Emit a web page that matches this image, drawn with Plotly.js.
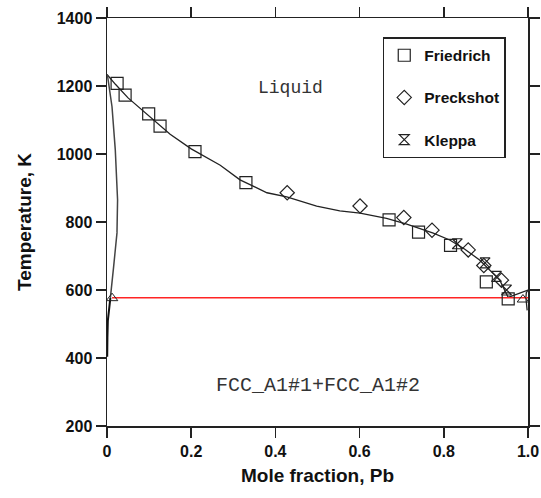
<!DOCTYPE html>
<html>
<head>
<meta charset="utf-8">
<script src="https://cdn.plot.ly/plotly-3.0.1.min.js"></script>
<style>html,body{margin:0;padding:0;background:#fff;}#chart{width:541px;height:498px;}</style>
</head>
<body>
<div id="chart"></div>
<script>
// Liquidus (Ag side to eutectic)
const liqX = [0, 0.02, 0.05, 0.1, 0.15, 0.2, 0.221, 0.269, 0.316, 0.38, 0.427, 0.498, 0.553, 0.601, 0.664, 0.712, 0.775, 0.814, 0.85, 0.885, 0.933, 0.953];
const liqT = [1234, 1205, 1165, 1112, 1058, 1015, 1000, 967, 924, 886, 874, 847, 833, 826, 811, 794, 767, 747, 720, 688, 629, 578];
// Ag-rich solidus (retrograde)
const solX = [0, 0.0014, 0.0119, 0.0197, 0.0251, 0.0237, 0.0157, 0.0095, 0.008];
const solT = [1234, 1229, 1139, 1012, 865, 768, 668, 590, 577];
// Ag-rich solvus below eutectic
const solvX = [0.008, 0.004, 0.002, 0.001, 0.0005];
const solvT = [577, 540, 510, 460, 404];
// Pb side
const pbLiqX = [0.953, 0.97, 0.985, 1.0];
const pbLiqT = [578, 586, 594, 600];
const pbSolX = [1.0, 0.996, 0.995, 0.996, 0.998];
const pbSolT = [600, 592, 577, 560, 540];
// Eutectic line
const eutX = [0.012, 1.0];
const eutT = [577, 577];
// Experimental data
const friedX = [0.024, 0.043, 0.099, 0.126, 0.209, 0.330, 0.670, 0.740, 0.816, 0.901, 0.953];
const friedT = [1208, 1173, 1118, 1082, 1007, 916, 806, 770, 731, 624, 574];
const preckX = [0.428, 0.601, 0.705, 0.772, 0.858, 0.895, 0.937];
const preckT = [886, 847, 813, 776, 718, 672, 629];
const kleppX = [0.832, 0.898, 0.925, 0.949];
const kleppT = [736, 680, 640, 600];
const triX = [0.012, 0.988];
const triT = [576, 572];

const lineStyle = {color: '#222', width: 1.3};
const traces = [
  {x: liqX, y: liqT, mode: 'lines', line: lineStyle, showlegend: false, hoverinfo: 'skip'},
  {x: solX, y: solT, mode: 'lines', line: {color: '#444', width: 1.5}, showlegend: false},
  {x: solvX, y: solvT, mode: 'lines', line: {color: '#111', width: 2}, showlegend: false},
  {x: pbLiqX, y: pbLiqT, mode: 'lines', line: lineStyle, showlegend: false},
  {x: pbSolX, y: pbSolT, mode: 'lines', line: lineStyle, showlegend: false},
  {x: eutX, y: eutT, mode: 'lines', line: {color: '#ff2424', width: 1.5}, showlegend: false},
  {x: triX, y: triT, mode: 'markers', marker: {symbol: 'triangle-up-open', size: 10, color: '#222', line: {width: 1}}, showlegend: false},
  {x: friedX, y: friedT, mode: 'markers', name: 'Friedrich', legendgroup: 'a',
   marker: {symbol: 'square-open', size: 12, color: '#222', line: {width: 1.2}}},
  {x: preckX, y: preckT, mode: 'markers', name: 'Preckshot', legendgroup: 'b',
   marker: {symbol: 'diamond-open', size: 11, color: '#222', line: {width: 1.2}}},
  {x: kleppX, y: kleppT, mode: 'markers', name: 'Kleppa', legendgroup: 'c',
   marker: {symbol: 'hourglass-open', size: 10, color: '#222', line: {width: 1.2}}}
];

const axisCommon = {
  showgrid: false, zeroline: false, showline: true, linecolor: '#222', linewidth: 1.5,
  mirror: 'ticks', ticks: 'outside', ticklen: 10, tickwidth: 1.5, tickcolor: '#222',
  tickfont: {family: 'Liberation Sans, Arial, sans-serif', size: 16, color: '#111', weight: 'bold'}
};

const layout = {
  width: 541, height: 498,
  margin: {l: 107, r: 13, t: 18, b: 72},
  paper_bgcolor: '#fff', plot_bgcolor: '#fff',
  xaxis: Object.assign({}, axisCommon, {
    range: [0, 1], tickvals: [0, 0.2, 0.4, 0.6, 0.8, 1.0], ticktext: ['0', '0.2', '0.4', '0.6', '0.8', '1.0'],
    title: {text: 'Mole fraction, Pb', standoff: 10, font: {family: 'Liberation Sans, Arial, sans-serif', size: 19, color: '#111', weight: 'bold'}}
  }),
  yaxis: Object.assign({}, axisCommon, {
    range: [200, 1400], tickvals: [200, 400, 600, 800, 1000, 1200, 1400],
    title: {text: 'Temperature, K', standoff: 20, font: {family: 'Liberation Sans, Arial, sans-serif', size: 19, color: '#111', weight: 'bold'}}
  }),
  legend: {
    x: 0.655, y: 0.953, xanchor: 'left', yanchor: 'top',
    bordercolor: '#222', borderwidth: 1.5, bgcolor: '#fff',
    traceorder: 'grouped', tracegroupgap: 19, itemwidth: 30, entrywidth: 88,
    font: {family: 'Liberation Sans, Arial, sans-serif', size: 15.5, color: '#111', weight: 'bold'}
  },
  annotations: [
    {x: 0.437, y: 1194, xref: 'x', yref: 'y', text: 'Liquid', showarrow: false,
     font: {family: 'Liberation Mono, DejaVu Sans Mono, monospace', size: 18, color: '#333'}},
    {x: 0.501, y: 318, xref: 'x', yref: 'y', text: 'FCC_A1#1+FCC_A1#2', showarrow: false,
     font: {family: 'Liberation Mono, DejaVu Sans Mono, monospace', size: 20, color: '#333'}}
  ],
  showlegend: true
};

Plotly.newPlot('chart', traces, layout, {displayModeBar: false, staticPlot: true});
</script>
</body>
</html>
